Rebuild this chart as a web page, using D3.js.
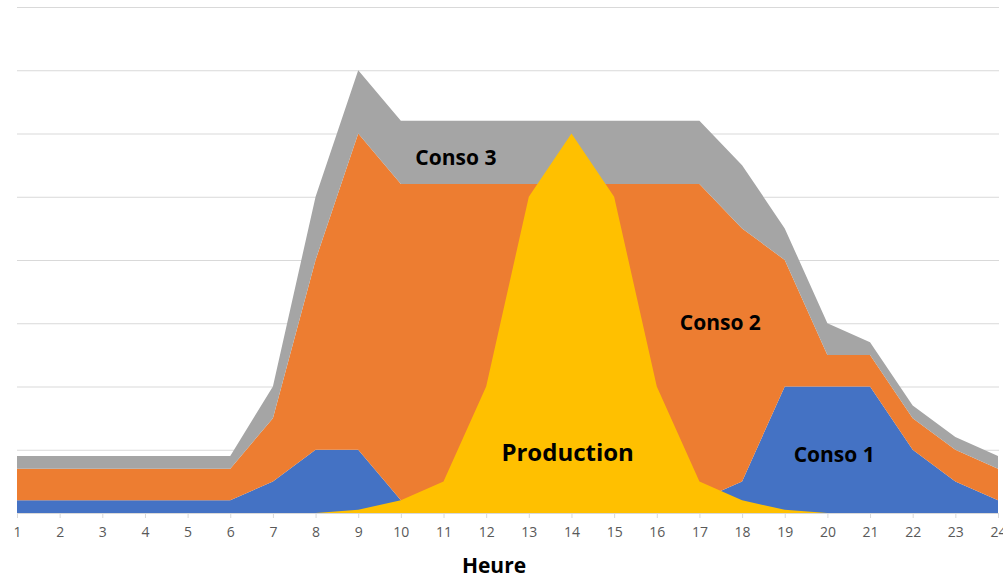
<!DOCTYPE html>
<html lang="fr">
<head>
  <meta charset="UTF-8">
  <title>Conso / Production par heure</title>
  <script src="https://d3js.org/d3.v7.min.js"></script>
  <style>
    body {
      margin: 0;
      background-color: #ffffff;
      font-family: "Open Sans", Arial, sans-serif;
    }

    .grid line {
      stroke: #d9d9d9;
      stroke-width: 1;
    }

    .grid path {
      stroke: none;
    }

    .x-axis path,
    .x-axis line {
      stroke: #d9d9d9;
    }

    .x-axis text {
      font-size: 14px;
      fill: #595959;
      font-family: "Open Sans", Arial, sans-serif;
    }

    .series-label {
      font-weight: bold;
      fill: #000000;
      text-anchor: middle;
    }

    .axis-title {
      font-size: 21px;
      font-weight: bold;
      text-anchor: middle;
    }
  </style>
</head>
<body>
  <svg width="1003" height="576"></svg>
  <script>
    // Data (hours 1..24)
    const hours = d3.range(1, 25);
    const conso1 = [20, 20, 20, 20, 20, 20, 50, 100, 100, 20, 20, 20, 20, 20, 20, 20, 20, 50, 200, 200, 200, 100, 50, 20];
    const conso2 = [50, 50, 50, 50, 50, 50, 100, 300, 500, 500, 500, 500, 500, 500, 500, 500, 500, 400, 200, 50, 50, 50, 50, 50];
    const conso3 = [20, 20, 20, 20, 20, 20, 50, 100, 100, 100, 100, 100, 100, 100, 100, 100, 100, 100, 50, 50, 20, 20, 20, 20];
    const production = [0, 0, 0, 0, 0, 0, 0, 0, 5, 20, 50, 200, 500, 600, 500, 200, 50, 20, 5, 0, 0, 0, 0, 0];
    const yTicks = [0, 100, 200, 300, 400, 500, 600, 700, 800];

    const keys = ["conso1", "conso2", "conso3"];
    const colors = { conso1: "#4472C4", conso2: "#ED7D31", conso3: "#A5A5A5", production: "#FFC000" };

    const rows = hours.map((h, i) => ({
      hour: h,
      conso1: conso1[i],
      conso2: conso2[i],
      conso3: conso3[i],
      production: production[i]
    }));

    const margin = { top: 7, right: 5, bottom: 63, left: 17 };
    const height = 576 - margin.top - margin.bottom;

    const svg = d3.select("svg");
    const chart = svg.append("g")
      .attr("transform", `translate(${margin.left},${margin.top})`);

    const x = d3.scaleLinear()
      .domain([1, 24])
      .range([0, 981]);

    const y = d3.scaleLinear()
      .domain([0, 800])
      .range([height, 0]);

    // Horizontal gridlines
    chart.append("g")
      .attr("class", "grid")
      .call(d3.axisLeft(y)
        .tickValues(yTicks)
        .tickSize(-982)
        .tickFormat(""));

    // Stacked consumption areas
    const layers = d3.stack().keys(keys)(rows);

    const area = d3.area()
      .x(d => x(d.data.hour))
      .y0(d => y(d[0]))
      .y1(d => y(d[1]));

    chart.selectAll(".layer")
      .data(layers)
      .enter()
      .append("path")
      .attr("class", "layer")
      .attr("d", area)
      .attr("fill", d => colors[d.key]);

    // Production drawn over the stack
    const prodArea = d3.area()
      .x(d => x(d.hour))
      .y0(y(0))
      .y1(d => y(d.production));

    chart.append("path")
      .datum(rows)
      .attr("d", prodArea)
      .attr("fill", colors.production);

    // X axis
    chart.append("g")
      .attr("class", "x-axis")
      .attr("transform", `translate(0, ${height})`)
      .call(d3.axisBottom(x)
        .tickValues(hours)
        .tickFormat(d3.format("d"))
        .tickSize(5)
        .tickSizeOuter(0)
        .tickPadding(9));

    // Series labels (placed in data units)
    const labels = [
      { text: "Conso 3", hour: 11.29, value: 550, size: 21 },
      { text: "Conso 2", hour: 17.49, value: 290, size: 21 },
      { text: "Conso 1", hour: 20.16, value: 80, size: 21 },
      { text: "Production", hour: 13.91, value: 82, size: 24 }
    ];

    chart.selectAll(".series-label")
      .data(labels)
      .enter()
      .append("text")
      .attr("class", "series-label")
      .attr("x", d => x(d.hour))
      .attr("y", d => y(d.value))
      .style("font-size", d => d.size + "px")
      .text(d => d.text);

    // Axis title
    svg.append("text")
      .attr("class", "axis-title")
      .attr("x", 494)
      .attr("y", 573)
      .text("Heure");
  </script>
</body>
</html>
